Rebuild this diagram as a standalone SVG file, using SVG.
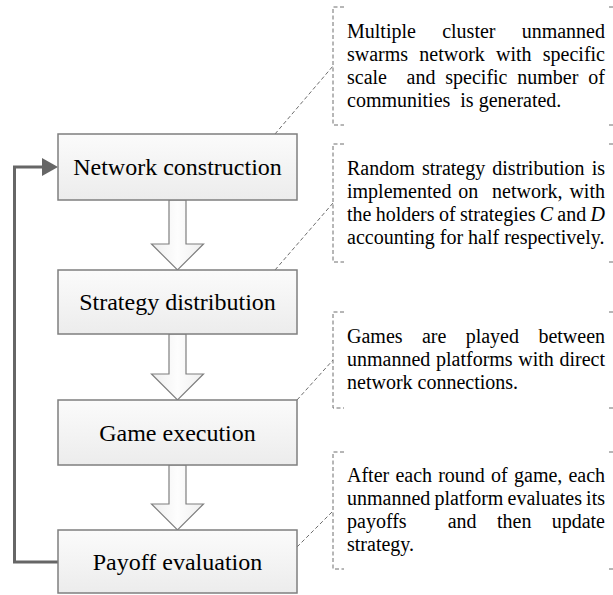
<svg xmlns="http://www.w3.org/2000/svg" width="613" height="595" viewBox="0 0 613 595">
<defs>
<linearGradient id="boxg" x1="0" y1="0" x2="0" y2="1">
<stop offset="0" stop-color="#fbfbfb"/>
<stop offset="1" stop-color="#ececec"/>
</linearGradient>
<linearGradient id="arrg" x1="0" y1="0" x2="1" y2="0">
<stop offset="0" stop-color="#eeeeee"/>
<stop offset="0.5" stop-color="#fdfdfd"/>
<stop offset="1" stop-color="#eeeeee"/>
</linearGradient>
<marker id="fb" markerWidth="5.4" markerHeight="6" refX="2.7" refY="3" orient="auto" markerUnits="strokeWidth">
<path d="M0,0 L5.4,3 L0,6 Z" fill="#666"/>
</marker>
<style>
.box{fill:url(#boxg);stroke:#7f7f7f;stroke-width:1.5}
.lbl{font-size:24px;fill:#000;text-anchor:middle}
.txt{font-size:20px;fill:#000}
.it{font-style:italic}
.blk{fill:url(#arrg);stroke:#7f7f7f;stroke-width:1.2;stroke-linejoin:miter}
.dash{fill:none;stroke:#6e6e6e;stroke-width:1;stroke-dasharray:4 2.5}
.fbk{fill:none;stroke:#666;stroke-width:3}
</style>
</defs>

<g id="connectors">
<polygon class="blk" points="169,200 186,200 186,244 203.5,244 177.5,270 151.5,244 169,244"/>
<polygon class="blk" points="169,334 186,334 186,374 203.5,374 177.5,400 151.5,374 169,374"/>
<polygon class="blk" points="169,465 186,465 186,504 203.5,504 177.5,530 151.5,504 169,504"/>
<polyline class="fbk" points="58,562 14.5,562 14.5,167 50,167" marker-end="url(#fb)"/>
<line class="dash" x1="275" y1="134" x2="333" y2="66"/>
<line class="dash" x1="275" y1="270" x2="333" y2="203"/>
<line class="dash" x1="297" y1="400" x2="333" y2="360"/>
<line class="dash" x1="297" y1="547" x2="333" y2="511"/>
</g>

<g font-family="Liberation Serif, serif">
<g id="network-construction">
<rect class="box" x="58" y="134" width="239" height="66"/>
<text class="lbl" x="177.5" y="175">Network construction</text>
</g>
<g id="strategy-distribution">
<rect class="box" x="58" y="270" width="239" height="64"/>
<text class="lbl" x="177.5" y="310">Strategy distribution</text>
</g>
<g id="game-execution">
<rect class="box" x="58" y="400" width="239" height="65"/>
<text class="lbl" x="177.5" y="441">Game execution</text>
</g>
<g id="payoff-evaluation">
<rect class="box" x="58" y="530" width="239" height="63"/>
<text class="lbl" x="177.5" y="570">Payoff evaluation</text>
</g>

<g id="note-1">
<path class="dash" d="M344,7 H333 V125 H344 M609,7 H613 M609,125 H613"/>
<text class="txt" y="38"><tspan x="347">Multiple</tspan><tspan x="442.2">cluster</tspan><tspan x="521.7">unmanned</tspan></text>
<text class="txt" y="61"><tspan x="347">swarms</tspan><tspan x="419.3">network</tspan><tspan x="496">with</tspan><tspan x="542.8">specific</tspan></text>
<text class="txt" y="84"><tspan x="347">scale</tspan><tspan x="406.6">and</tspan><tspan x="445.3">specific</tspan><tspan x="517.3">number</tspan><tspan x="588.2">of</tspan></text>
<text class="txt" y="107"><tspan x="347">communities</tspan><tspan x="460.3">is generated.</tspan></text>
</g>

<g id="note-2">
<path class="dash" d="M344,144 H333 V262 H344 M609,144 H613 M609,262 H613"/>
<text class="txt" y="175"><tspan x="347">Random</tspan><tspan x="421.9">strategy</tspan><tspan x="492.3">distribution</tspan><tspan x="591.7">is</tspan></text>
<text class="txt" y="198"><tspan x="347">implemented</tspan><tspan x="458.3">on</tspan><tspan x="492">network,</tspan><tspan x="569.4">with</tspan></text>
<text class="txt" y="221"><tspan x="347">the</tspan><tspan x="375.7">holders</tspan><tspan x="438.9">of</tspan><tspan x="459.9">strategies</tspan><tspan x="539.7" class="it">C</tspan><tspan x="557.3">and</tspan><tspan x="590.5" class="it">D</tspan></text>
<text class="txt" x="347" y="244">accounting for half respectively.</text>
</g>

<g id="note-3">
<path class="dash" d="M344,312 H333 V408 H344 M609,312 H613 M609,408 H613"/>
<text class="txt" y="343"><tspan x="347">Games</tspan><tspan x="421.9">are</tspan><tspan x="465.7">played</tspan><tspan x="538.4">between</tspan></text>
<text class="txt" y="366"><tspan x="347">unmanned</tspan><tspan x="436">platforms</tspan><tspan x="518.3">with</tspan><tspan x="559.5">direct</tspan></text>
<text class="txt" x="347" y="389">network connections.</text>
</g>

<g id="note-4">
<path class="dash" d="M344,452 H333 V569 H344 M609,452 H613 M609,569 H613"/>
<text class="txt" y="482"><tspan x="347">After</tspan><tspan x="395.4">each</tspan><tspan x="438.2">round</tspan><tspan x="491.1">of</tspan><tspan x="514">game,</tspan><tspan x="568.4">each</tspan></text>
<text class="txt" y="505"><tspan x="347">unmanned</tspan><tspan x="434.5">platform</tspan><tspan x="507.6">evaluates</tspan><tspan x="586.1">its</tspan></text>
<text class="txt" y="528"><tspan x="347">payoffs</tspan><tspan x="447.7">and</tspan><tspan x="497">then</tspan><tspan x="551.7">update</tspan></text>
<text class="txt" x="347" y="551">strategy.</text>
</g>
</g>
</svg>
